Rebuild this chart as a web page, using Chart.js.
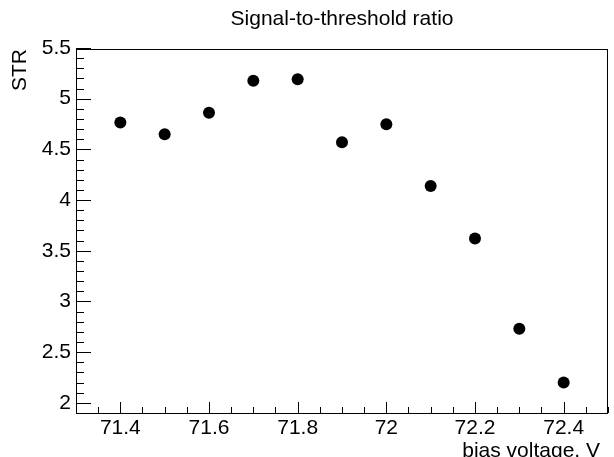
<html lang="en">
<head>
    <meta charset="utf-8"/>
    <title>Signal-to-threshold ratio</title>
    <script src="https://cdn.jsdelivr.net/npm/chart.js"></script>
    <style>
        body { margin: 0; background: #ffffff; }
        #wrap { width: 614px; height: 457px; }
    </style>
</head>
<body>
<div id="wrap"><canvas id="strChart" width="614" height="457"></canvas></div>
<script>
    // data
    const biasVoltage = [71.4, 71.5, 71.6, 71.7, 71.8, 71.9, 72.0, 72.1, 72.2, 72.3, 72.4];
    const strValues = [4.764, 4.650, 4.862, 5.177, 5.191, 4.571, 4.748, 4.138, 3.620, 2.732, 2.201];
    const xTicks = [71.4, 71.6, 71.8, 72.0, 72.2, 72.4];
    const yTicks = [2, 2.5, 3, 3.5, 4, 4.5, 5, 5.5];

    const FONT = 'Liberation Sans, Arial, sans-serif';
    const FS = 21;

    // ROOT style frame with inward ticks, title and x-axis title
    const rootFrame = {
        id: 'rootFrame',
        afterDraw(chart) {
            const ctx = chart.ctx;
            const a = chart.chartArea;
            const xs = chart.scales.x, ys = chart.scales.y;
            ctx.save();
            ctx.strokeStyle = '#000';
            ctx.lineWidth = 1;
            ctx.strokeRect(a.left + 0.5, a.top + 0.5, a.right - a.left - 1, a.bottom - a.top);
            ctx.beginPath();
            // x ticks: major 0.2, minor 0.05
            for (let v = 71.3; v <= 72.5001; v += 0.05) {
                const px = Math.round(xs.getPixelForValue(v)) + 0.5;
                const major = xTicks.some(t => Math.abs(t - v) < 1e-6);
                ctx.moveTo(px, a.bottom);
                ctx.lineTo(px, a.bottom - (major ? 11 : 6));
            }
            // y ticks: major 0.5, minor 0.1
            for (let v = 2.0; v <= 5.5001; v += 0.1) {
                const py = Math.round(ys.getPixelForValue(v)) + 0.5;
                const major = yTicks.some(t => Math.abs(t - v) < 1e-6);
                ctx.moveTo(a.left, py);
                ctx.lineTo(a.left + (major ? 15 : 8), py);
            }
            ctx.stroke();
            ctx.fillStyle = '#000';
            ctx.font = FS + 'px ' + FONT;
            ctx.textBaseline = 'alphabetic';
            ctx.textAlign = 'center';
            ctx.fillText('Signal-to-threshold ratio', (a.left + a.right) / 2, 25);
            ctx.textAlign = 'right';
            ctx.fillText('bias voltage, V', a.right - 8, 457);
            ctx.restore();
        }
    };

    new Chart(document.getElementById('strChart'), {
        type: 'scatter',
        data: {
            datasets: [{
                label: 'STR',
                data: biasVoltage.map((x, i) => ({ x: x, y: strValues[i] })),
                backgroundColor: '#000',
                borderWidth: 0,
                pointRadius: 6,
                pointHoverRadius: 6
            }]
        },
        options: {
            responsive: false,
            animation: false,
            layout: { padding: { top: 49, right: 2, left: 0, bottom: 0 } },
            plugins: { legend: { display: false }, tooltip: { enabled: false } },
            scales: {
                x: {
                    type: 'linear',
                    min: 71.3,
                    max: 72.5,
                    afterBuildTicks: s => { s.ticks = xTicks.map(v => ({ value: v })); },
                    afterFit: s => { s.height = 44; },
                    grid: { display: false, drawTicks: false },
                    border: { display: false },
                    ticks: {
                        padding: 3,
                        color: '#000',
                        maxRotation: 0,
                        font: { family: FONT, size: FS },
                        callback: v => String(Math.round(v * 10) / 10)
                    }
                },
                y: {
                    type: 'linear',
                    min: 1.9,
                    max: 5.49,
                    afterBuildTicks: s => { s.ticks = yTicks.map(v => ({ value: v })); },
                    afterFit: s => { s.width = 76; },
                    grid: { display: false, drawTicks: false },
                    border: { display: false },
                    ticks: {
                        padding: 5,
                        color: '#000',
                        font: { family: FONT, size: FS },
                        callback: v => String(v)
                    },
                    title: {
                        display: true, text: 'STR', align: 'end', color: '#000',
                        font: { family: FONT, size: FS }, padding: { top: 8, bottom: 0 }
                    }
                }
            }
        },
        plugins: [rootFrame]
    });
</script>
</body>
</html>
